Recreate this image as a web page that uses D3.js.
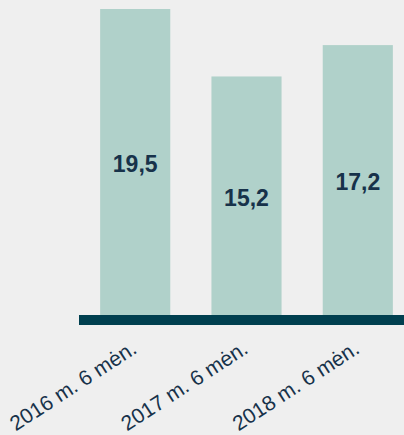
<!DOCTYPE html>
<html><head><meta charset="utf-8">
<script src="https://cdn.jsdelivr.net/npm/d3@7"></script>
<style>
html,body{margin:0;padding:0;background:#efefef;}
svg{display:block;font-family:"Liberation Sans",Arial,sans-serif;}
</style></head>
<body>
<svg id="chart" width="404" height="435"></svg>
<script>
const categories = ["2016 m. 6 mėn.", "2017 m. 6 mėn.", "2018 m. 6 mėn."];
const values = [19.5, 15.2, 17.2];
const valueLabels = ["19,5", "15,2", "17,2"];

const svg = d3.select("#chart");
const W = 404, H = 435;
svg.append("rect").attr("width", W).attr("height", H).attr("fill", "#efefef");

const baseY = 315;
const x = d3.scaleBand().domain(categories).range([79, 414]).paddingInner(0.37).paddingOuter(0.19);
const y = d3.scaleLinear().domain([0, 19.5]).range([baseY, 9]);

svg.selectAll("rect.bar").data(values).enter().append("rect")
  .attr("class", "bar")
  .attr("x", (d, i) => x(categories[i]))
  .attr("width", x.bandwidth())
  .attr("y", d => y(d))
  .attr("height", d => baseY - y(d))
  .attr("fill", "#b0d1ca");

svg.selectAll("text.val").data(values).enter().append("text")
  .attr("class", "val")
  .attr("x", (d, i) => x(categories[i]) + x.bandwidth() / 2)
  .attr("y", d => (y(d) + baseY) / 2 + 10)
  .attr("text-anchor", "middle")
  .attr("font-size", 23)
  .attr("font-weight", "bold")
  .attr("fill", "#17324a")
  .text((d, i) => valueLabels[i]);

// axis line
svg.append("line")
  .attr("x1", 79).attr("x2", 404)
  .attr("y1", baseY + 5).attr("y2", baseY + 5)
  .attr("stroke", "#003f4f").attr("stroke-width", 10);

const axis = d3.axisBottom(x).tickSize(0).tickPadding(0);
const g = svg.append("g").attr("transform", `translate(0,${baseY + 10})`).call(axis);
g.select(".domain").remove();
g.selectAll("text")
  .attr("font-family", "Liberation Sans, Arial, sans-serif")
  .attr("font-size", 21)
  .attr("fill", "#17324a")
  .attr("text-anchor", "end")
  .attr("dy", 0)
  .attr("y", 0)
  .attr("transform", "translate(3,27) rotate(-33)");
</script>
</body></html>
